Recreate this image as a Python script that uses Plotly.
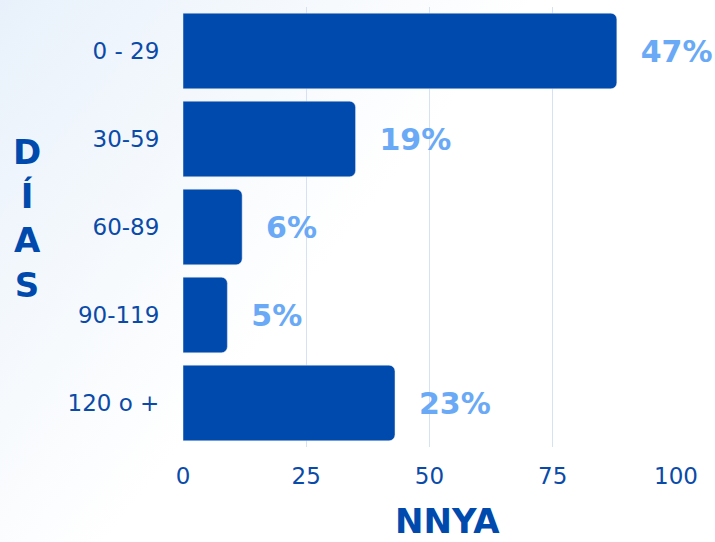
import base64
import plotly.graph_objects as go

categorias = ["0 - 29", "30-59", "60-89", "90-119", "120 o +"]
valores = [88, 35, 12, 9, 43]
etiquetas = ["47%", "19%", "6%", "5%", "23%"]
ticks_x = [0, 25, 50, 75, 100]

azul = "#004aad"
azul_texto = "#0a4aa8"
celeste = "#6aa9f5"
fuente = "DejaVu Sans"

# fondo con un degradado suave celeste en la esquina izquierda
svg = (
    '<svg xmlns="http://www.w3.org/2000/svg" width="715" height="542">'
    '<defs><linearGradient id="g" x1="0" y1="0" x2="1" y2="0.6">'
    '<stop offset="0" stop-color="#e8f1fb"/>'
    '<stop offset="0.35" stop-color="#f7fafd"/>'
    '<stop offset="0.55" stop-color="#ffffff"/>'
    '</linearGradient></defs>'
    '<rect width="715" height="542" fill="url(#g)"/></svg>'
)
fondo = "data:image/svg+xml;base64," + base64.b64encode(svg.encode()).decode()

fig = go.Figure(go.Bar(
    y=categorias,
    x=valores,
    orientation="h",
    marker=dict(color=azul, cornerradius=6),
    width=0.86,
    text=etiquetas,
    texttemplate="\u00a0\u00a0%{text}",
    textposition="outside",
    cliponaxis=False,
    textfont=dict(family=fuente, size=30, color=celeste, weight="bold"),
))

fig.update_layout(
    width=715,
    height=542,
    paper_bgcolor="white",
    plot_bgcolor="rgba(0,0,0,0)",
    margin=dict(l=183, r=39, t=7, b=95, autoexpand=False),
    showlegend=False,
    font=dict(family=fuente, color=azul_texto),
    images=[dict(
        source=fondo, xref="paper", yref="paper",
        x=-183 / 493, y=1 + 7 / 440,
        sizex=715 / 493, sizey=542 / 440,
        sizing="stretch", layer="below",
    )],
    xaxis=dict(
        range=[0, 100],
        tickvals=ticks_x,
        tickfont=dict(size=23, color=azul_texto),
        showgrid=True,
        gridcolor="#d6e2f1",
        gridwidth=1,
        zeroline=False,
        ticks="outside",
        ticklen=8,
        tickcolor="rgba(0,0,0,0)",
    ),
    yaxis=dict(
        autorange="reversed",
        tickfont=dict(size=23, color=azul_texto),
        showgrid=False,
        ticks="outside",
        ticklen=18,
        tickcolor="rgba(0,0,0,0)",
    ),
    annotations=[
        dict(
            text="D<br>Í<br>A<br>S",
            xref="paper", yref="paper",
            x=-0.317, y=0.52,
            xanchor="center", yanchor="middle",
            showarrow=False,
            font=dict(family=fuente, size=34, color=azul, weight="bold"),
            align="center",
        ),
        dict(
            text="NNYA",
            xref="paper", yref="paper",
            x=0.536, y=-0.168,
            xanchor="center", yanchor="middle",
            showarrow=False,
            font=dict(family=fuente, size=34, color=azul, weight="bold"),
        ),
    ],
)

fig.write_html("out.html", config={"displayModeBar": False},
               post_script="document.body.style.margin='0';")
